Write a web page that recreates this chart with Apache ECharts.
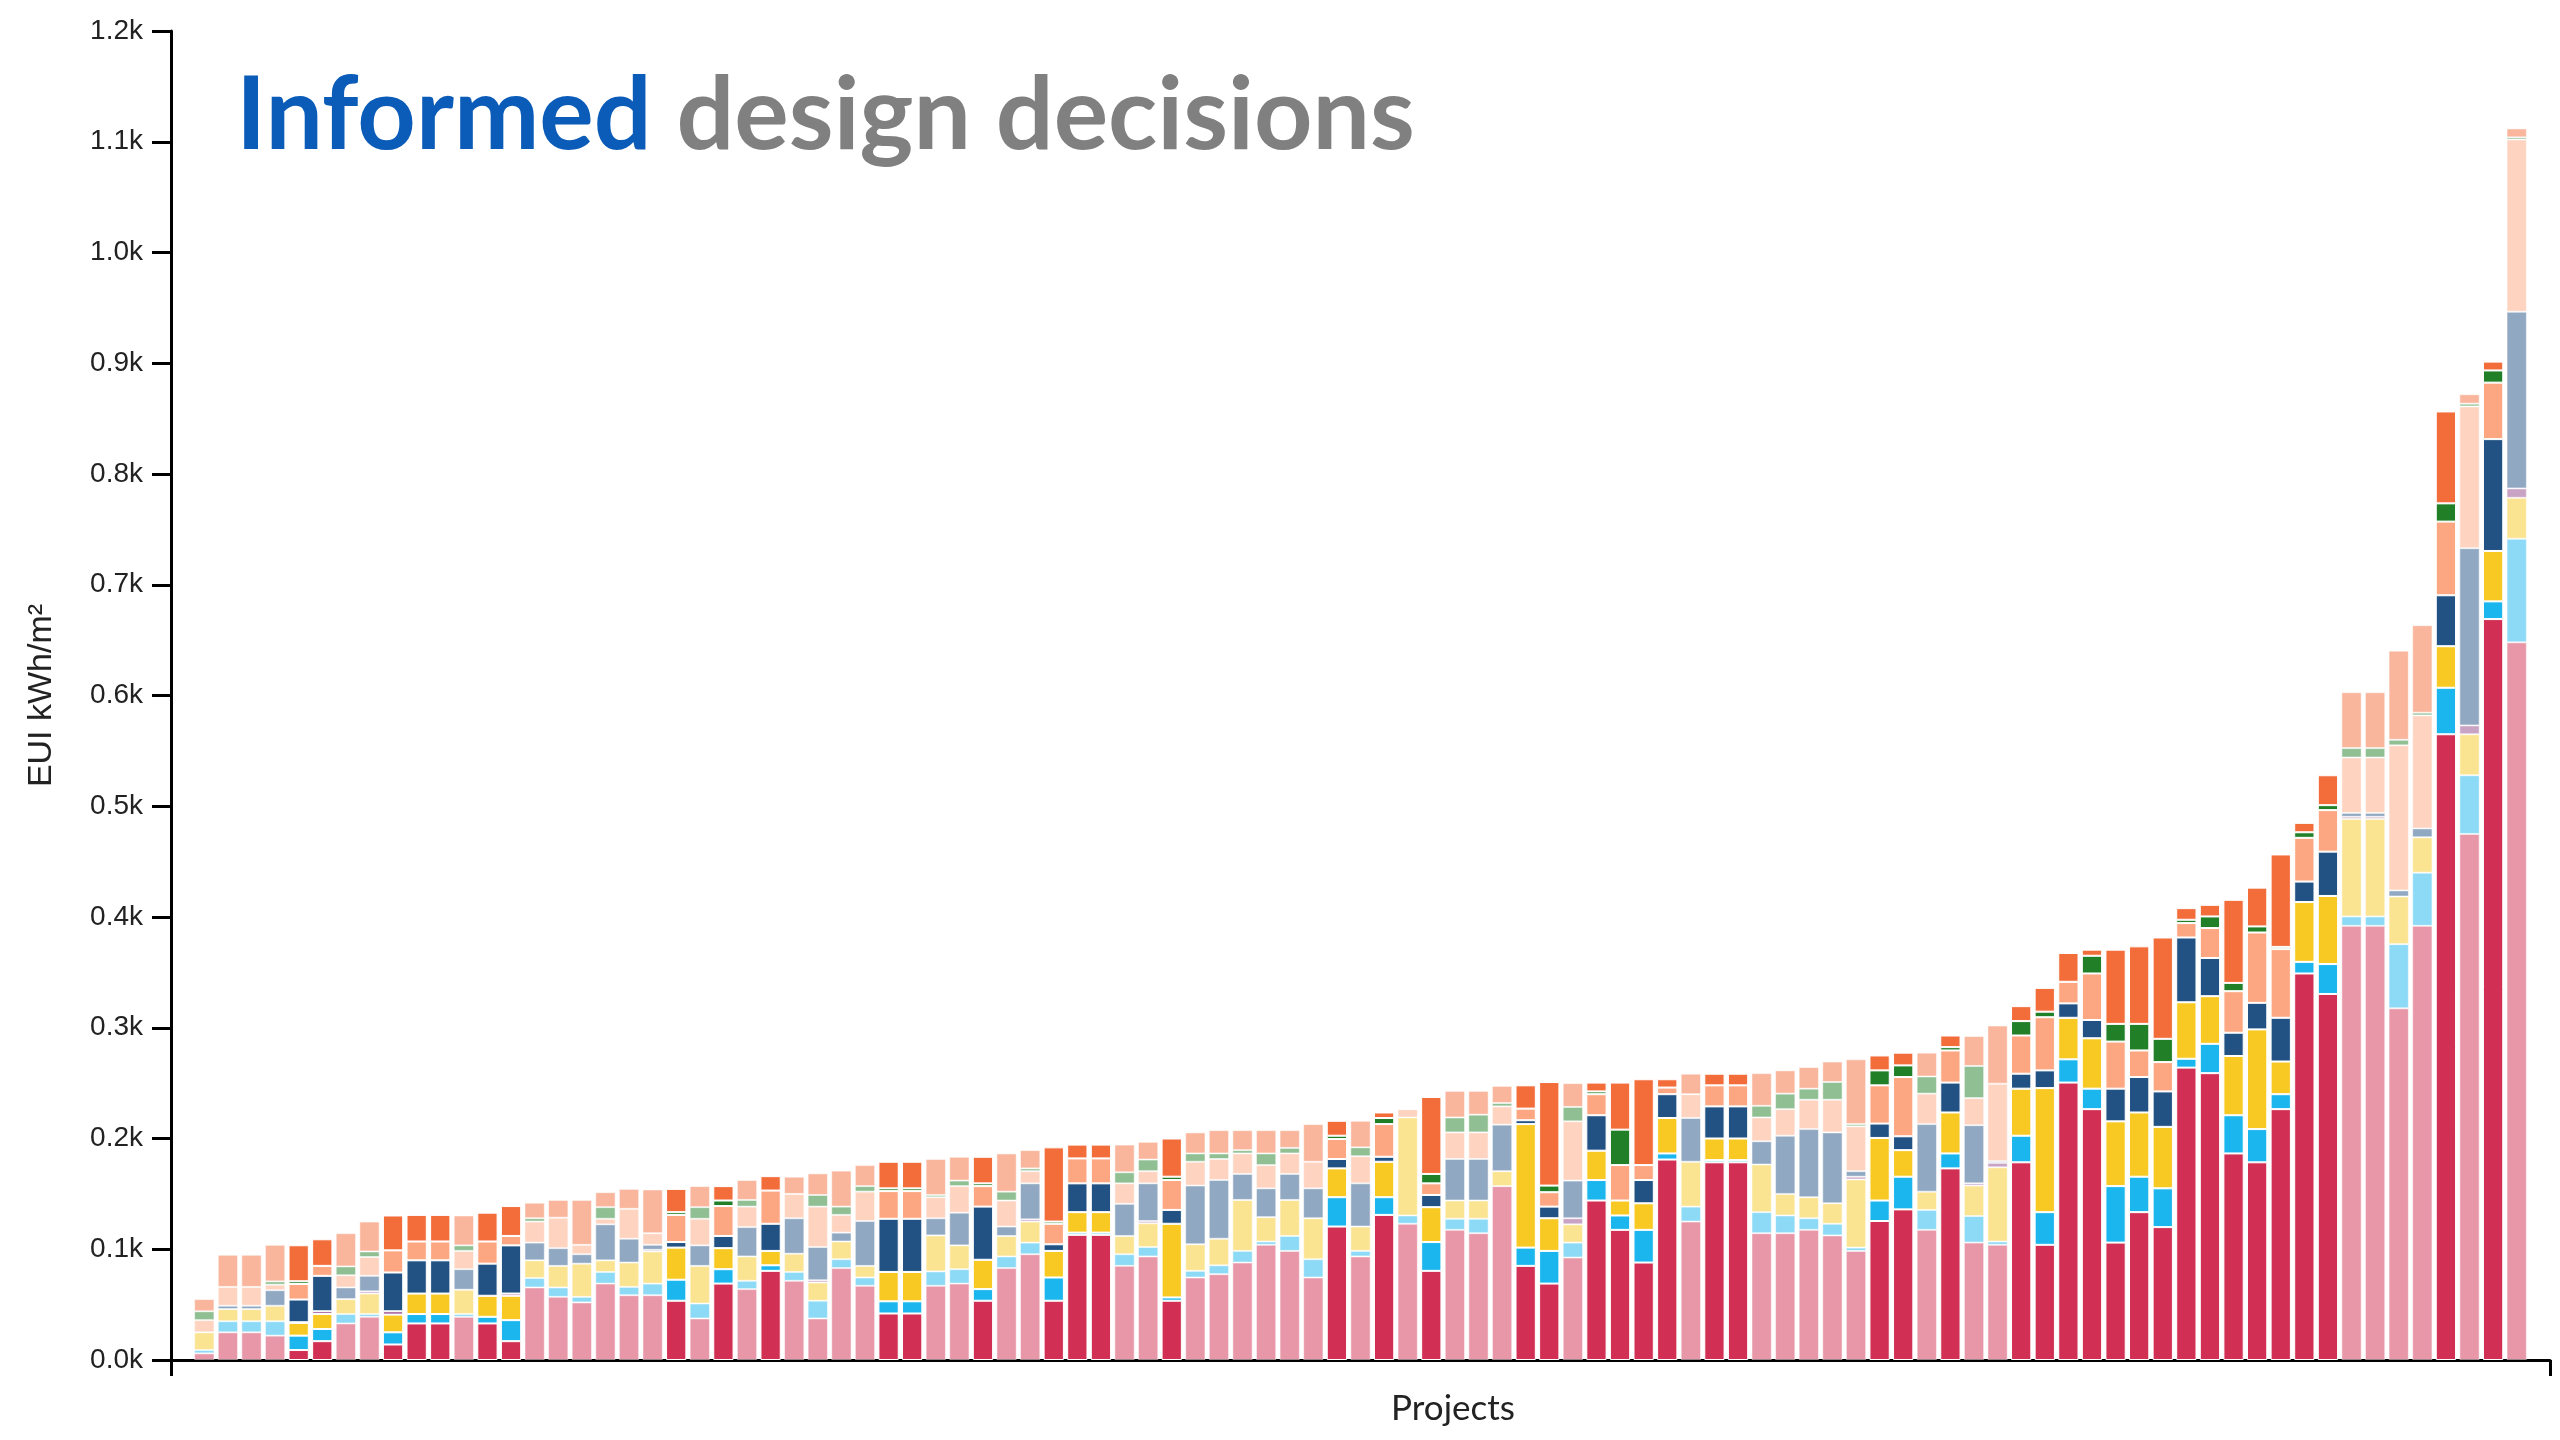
<!DOCTYPE html>
<html>
<head>
<meta charset="utf-8">
<script src="https://cdn.jsdelivr.net/npm/echarts@6/dist/echarts.min.js"></script>
<style>
html,body{margin:0;padding:0;background:#fff;}
#chart{width:2560px;height:1440px;}
</style>
</head>
<body>
<div id="chart"></div>
<script>
// ---- data ----
var yTicks = [0, 100, 200, 300, 400, 500, 600, 700, 800, 900, 1000, 1100, 1200];

// 1 = highlighted project (full colour), 0 = faded project
var highlight = [
  0,0,0,0,1,1,0,0,1,1,
  1,0,1,1,0,0,0,0,0,0,
  1,0,1,0,1,0,0,0,0,1,
  1,0,0,1,0,0,1,1,1,0,
  0,1,0,0,0,0,0,0,1,0,
  1,0,1,0,0,0,1,1,0,1,
  1,1,1,0,1,1,0,0,0,0,
  0,1,1,0,1,0,0,1,1,1,
  1,1,1,1,1,1,1,1,1,1,
  1,0,0,0,0,1,0,1,0
];

var use1 = [
  6,25,25,22,9,17,33,39,14,33,
  33,39,33,17,65.5,57,52,69,58.5,58.5,
  53.5,37.5,69,64,80.5,71.5,37.5,83,67,42,
  42,67,69,53.5,83,95.5,53.5,113,113,85,
  93.5,53.5,74.5,77.5,88,104,98.5,74.5,120.5,93.5,
  131,123,80.5,117.5,114.5,157,85,69,92.5,144,
  117.5,88,181,125,178.5,178.5,114.5,114.5,117.5,112.5,
  98.5,125.5,136,117.5,173,106,104,178.5,104,250.5,
  226.5,106,133.5,120,264,259,186.5,178.5,226.5,349,
  330.5,392,392,317.5,392,565,475,669,648
];
var use2 = [
  3,10,10,13,13,11,8.5,2.5,11,8.5,
  8.5,2.5,6,19,8.5,8.5,5,10.5,7.5,10.5,
  19,13.5,13,7.5,5,8,16,8,7.5,11,
  11,13,13,10.5,10.5,10.5,21,2,2,10.5,
  8.5,3,6,8,10.5,3,13.5,16.5,26.5,5,
  16,7.5,26,10,13,0,16.5,29.5,13.5,18.5,
  13,29.5,5.5,13.5,2,2,19,16,10.5,10.5,
  3,18.5,29.5,18,13.5,24,3,24,29.5,21,
  18.5,51,32,35,8,26.5,34.5,30,13.5,10.5,
  27,8.5,8.5,58,48,42,53,16,93.5
];
var use3 = [
  16,11,11,14,11.5,13.5,13.5,18.5,16,18.5,
  18.5,22,19,22,16,19.5,30,10.5,22,29,
  29,34,19,22,13,16.5,16.5,16,10.5,26.5,
  26.5,32.5,21.5,26.5,18.5,19,24,18.5,18.5,16.5,
  21.5,66.5,24,24,46,22,32.5,37,26,22,
  32,88.5,31.5,16.5,16.5,13.5,111.5,29.5,16.5,26.5,
  13.5,24,32,40.5,19.5,19.5,43,19.5,19,18.5,
  61.5,56.5,24,16.5,37,27.5,67,42.5,112,37.5,
  45.5,58.5,58,55.5,51,43,53.5,90,29.5,54,
  61.5,88,88,43,32,37.5,37,45.5,37
];
var use4 = [
  0,0,0,0,0.6,2.5,0,2,3,0,
  0,0,0,2,0,0,0,0,0,1.5,
  0,0,0,0,0,0,2,0,0,0,
  0,0,0,0,0,2,0,0,0,0,
  2,0,0,0,0,0,0,0,0,0,
  0,0,0,0,0,0,0,0,5.5,0,
  0,0,0,0,0,0,0,0,0,0,
  2.5,0,0,0,0,2,4,0,0,0,
  0,0,0,0,0,0,0,0,0,0,
  0,2,2,0,0,0,8,0,8.5
];
var use5 = [
  0,3,3,14,20.5,32,10.5,14,35,30,
  30,18.5,29,43.5,16,16,8.5,32.5,21.5,4.5,
  5,18.5,11,26.5,24.5,32,30,8,40.5,48,
  48,15.5,29.5,48,8.5,32.5,6,26,26,29,
  34,12.5,53,53,23.5,26,23.5,27,8.5,39,
  4.5,0,11,37.5,37.5,42,3.5,10.5,34,32,
  0,21,21.5,39.5,29,29,21,52.5,61.5,64,
  5,13,12.5,61,27,52.5,1.5,13.5,16,13,
  16.5,29.5,32,32,58.5,34.5,21,24,39.5,18.5,
  40,3.5,3.5,5.5,8,46,160,101,159.5
];
var use6 = [
  11,17,17,5,14,9,11,17,20,17,
  17,16.5,20,8.5,19,27.5,8.5,5,27,10.5,
  24.5,24,27,18.5,30,22,36.5,16,26.5,25,
  25,19,24,18.5,23.5,11,18.5,22.5,22.5,18.5,
  11,27,21.5,19,18.5,21,18.5,24,18,24.5,
  29.5,7.5,10.5,24,24,16.5,10.5,13,53.5,19,
  32,13.5,6,21.5,19,19,21.5,24,26.5,29.5,
  40.5,34.5,53.5,27.5,29,24.5,70,34.5,48,19.5,
  42,42.5,24,26.5,13,27,37.5,63.5,62,39.5,
  37.5,50,50,131,102,66.5,128,51,155.5
];
var use7 = [
  8,0,0,3,2.5,0,8,5,0,0,
  0,5,0,0,3,0,0,10.5,0,0,
  2.5,10.5,5,6,0,0,10.5,7.5,5,2.5,
  2.5,2,5,2.5,8,2.5,2,0,0,10,
  10.5,3,7.5,5,3,10.5,5,0,3,8,
  5.5,0,8.5,13.5,16,3,0,6,13,2.5,
  32,0,0,0,0,0,10.5,14,10,16,
  2,13.5,10.5,15.5,3,29,0,13,5,0,
  16,16,24,21,3,10.5,7.5,5.5,2,5,
  4.5,8.5,8.5,5,2.5,16.5,2.5,11,2
];
var use8 = [
  11,29,29,33,32.5,24,30,27,31.5,24,
  24,27,26,27,14,16,40.5,13.5,18,39.5,
  21,19,13,18,13,15.5,19.5,32.5,19,24,
  24,32.5,21.5,24,34.5,16.5,67,12.5,12.5,25,
  16,34.5,19,21,18,21,16,34,13.5,24,
  5,0,69.5,24,21.5,15.5,21,93.5,21.5,8,
  42.5,77.5,7.5,18.5,10.5,10.5,29.5,21,19.5,18.5,
  58.5,13.5,11.5,21.5,10.5,27,52.5,13.5,21.5,26,
  5.5,67,70,91.5,10.5,10.5,75,35,83.5,8.5,
  27,50.5,50.5,80.5,79,83,8.5,8,8
];

var seriesNames = ['Heating', 'Cooling', 'Lighting', 'Humidification', 'Fans', 'Equipment', 'Pumps', 'Hot water'];
var seriesColors = ['#d12f53', '#1bb6ee', '#f8c923', '#934789', '#225283', '#fda782', '#217f27', '#f36d3a'];
var seriesValues = [use1, use2, use3, use4, use5, use6, use7, use8];

var categories = use1.map(function (v, i) { return 'Project ' + (i + 1); });

// ---- chart ----
var chart = echarts.init(document.getElementById('chart'), null, {renderer: 'canvas'});

var barSeries = seriesValues.map(function (arr, k) {
  return {
    name: seriesNames[k],
    type: 'bar',
    stack: 'eui',
    xAxisIndex: 1,
    yAxisIndex: 1,
    barCategoryGap: '14%',
    silent: true,
    itemStyle: {color: seriesColors[k], borderColor: '#ffffff', borderWidth: 1},
    emphasis: {disabled: true},
    data: arr.map(function (v, i) {
      return {value: v, itemStyle: {opacity: highlight[i] ? 1 : 0.5}};
    })
  };
});

var option = {
  backgroundColor: '#ffffff',
  animation: false,
  title: {
    left: 231,
    top: 60,
    text: '{a|Informed}{s| }{b|design decisions}',
    textStyle: {
      rich: {
        a: {fontFamily: 'Lato', fontWeight: 'bold', fontSize: 102, lineHeight: 102, color: '#0a5cb8'},
        s: {fontFamily: 'Lato', fontWeight: 'bold', fontSize: 102, lineHeight: 102, color: '#808080'},
        b: {fontFamily: 'Lato', fontWeight: 'bold', fontSize: 102, lineHeight: 102, color: '#808080'}
      }
    }
  },
  grid: [
    {left: 171, right: 10, top: 31, bottom: 80},
    {left: 192.5, right: 31.5, top: 31, bottom: 80}
  ],
  xAxis: [
    {
      gridIndex: 0, type: 'value', min: 0, max: 1, interval: 1,
      axisLine: {show: true, lineStyle: {color: '#000', width: 3}},
      axisTick: {show: true, length: 16, lineStyle: {color: '#000', width: 3}},
      axisLabel: {show: false},
      splitLine: {show: false}
    },
    {
      gridIndex: 1, type: 'category', data: categories, show: false
    }
  ],
  yAxis: [
    {
      gridIndex: 0, type: 'value', min: 0, max: 1200, interval: 100,
      name: 'EUI kWh/m²',
      nameLocation: 'middle',
      nameRotate: 90,
      nameGap: 112,
      nameTextStyle: {fontFamily: 'Liberation Sans', fontSize: 34, color: '#222'},
      axisLine: {show: true, lineStyle: {color: '#000', width: 3}},
      axisTick: {show: true, length: 19, lineStyle: {color: '#000', width: 3}},
      axisLabel: {
        margin: 28,
        fontFamily: 'Liberation Sans', fontSize: 28, color: '#222',
        formatter: function (v) { return (v / 1000).toFixed(1) + 'k'; }
      },
      splitLine: {show: false}
    },
    {
      gridIndex: 1, type: 'value', min: 0, max: 1200, interval: 100, show: false
    }
  ],
  graphic: [
    {
      type: 'text',
      x: 1453, y: 1409,
      silent: true,
      style: {
        text: 'Projects',
        fontFamily: 'Lato', fontSize: 35, fill: '#222',
        align: 'center', verticalAlign: 'middle'
      }
    }
  ],
  series: barSeries
};

chart.setOption(option);
</script>
</body>
</html>
